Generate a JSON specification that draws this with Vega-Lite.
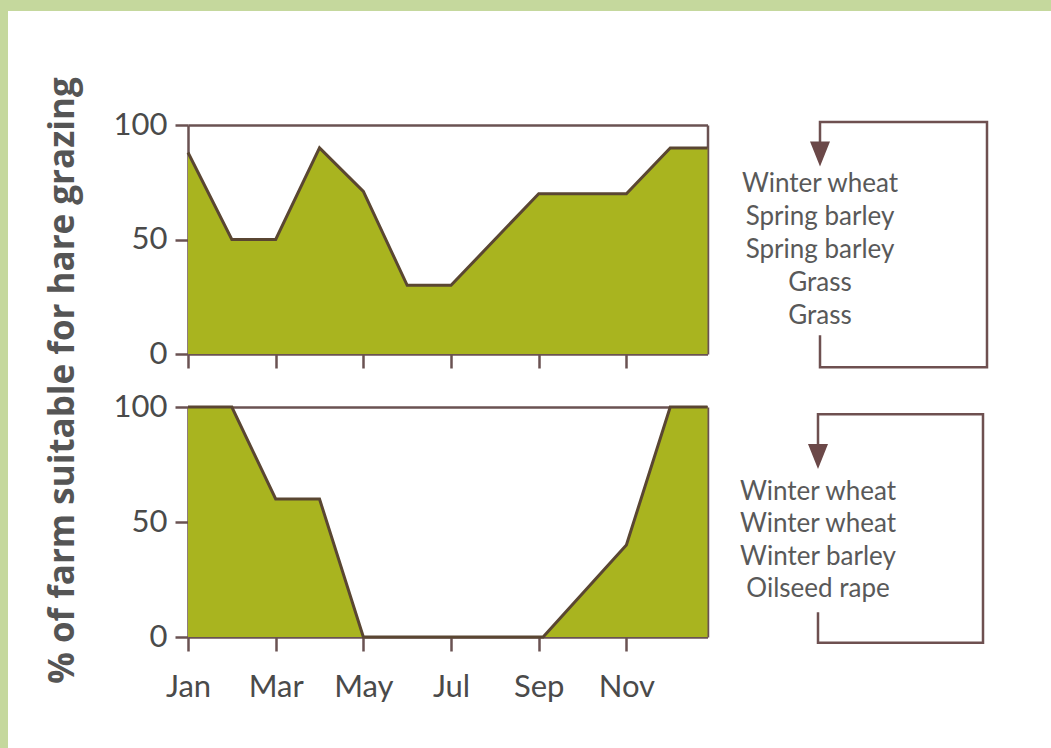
{
  "$schema": "https://vega.github.io/schema/vega-lite/v6.json",
  "width": 1043,
  "height": 737,
  "autosize": {"type": "none"},
  "padding": {"left": 8, "top": 11, "right": 0, "bottom": 0},
  "background": "#c5d89d",
  "view": {"fill": "#ffffff", "stroke": null},
  "config": {
    "font": "Lato",
    "axis": {
      "domainColor": "#6a5252",
      "domainWidth": 2.5,
      "tickColor": "#6a5252",
      "tickWidth": 2.5,
      "grid": false,
      "labelFont": "Lato",
      "labelFontSize": 31,
      "labelColor": "#4a4a4a",
      "labelFlush": false,
      "labelOverlap": false
    }
  },
  "datasets": {
    "top": [
      {"month": 0, "pct": 88},
      {"month": 1, "pct": 50},
      {"month": 2, "pct": 50},
      {"month": 3, "pct": 90},
      {"month": 4, "pct": 71},
      {"month": 5, "pct": 30},
      {"month": 6, "pct": 30},
      {"month": 8, "pct": 70},
      {"month": 10, "pct": 70},
      {"month": 11, "pct": 90},
      {"month": 11.85, "pct": 90}
    ],
    "bottom": [
      {"month": 0, "pct": 100},
      {"month": 1, "pct": 100},
      {"month": 2, "pct": 60},
      {"month": 3, "pct": 60},
      {"month": 4, "pct": 0},
      {"month": 8.1, "pct": 0},
      {"month": 10, "pct": 40},
      {"month": 11, "pct": 100},
      {"month": 11.85, "pct": 100}
    ],
    "loopTop": [
      {"step": 1, "x": 0, "y": 5.58},
      {"step": 2, "x": 0, "y": 6.55},
      {"step": 3, "x": 1, "y": 6.55},
      {"step": 4, "x": 1, "y": -0.88},
      {"step": 5, "x": 0, "y": -0.88},
      {"step": 6, "x": 0, "y": 0.09}
    ],
    "loopBottom": [
      {"step": 1, "x": 0, "y": 4.72},
      {"step": 2, "x": 0, "y": 5.67},
      {"step": 3, "x": 1, "y": 5.67},
      {"step": 4, "x": 1, "y": -1.41},
      {"step": 5, "x": 0, "y": -1.41},
      {"step": 6, "x": 0, "y": -0.1}
    ],
    "cropsTop": [
      {"year": 1, "crop": "Winter wheat"},
      {"year": 2, "crop": "Spring barley"},
      {"year": 3, "crop": "Spring barley"},
      {"year": 4, "crop": "Grass"},
      {"year": 5, "crop": "Grass"}
    ],
    "cropsBottom": [
      {"year": 1, "crop": "Winter wheat"},
      {"year": 2, "crop": "Winter wheat"},
      {"year": 3, "crop": "Winter barley"},
      {"year": 4, "crop": "Oilseed rape"}
    ]
  },
  "layer": [
    {
      "data": {"name": "top"},
      "layer": [
        {
          "mark": {"type": "area", "color": "#a9b41f", "opacity": 1},
          "encoding": {
            "x": {
              "field": "month", "type": "quantitative",
              "scale": {"domain": [0, 11.85], "range": [180, 699.5], "nice": false, "zero": false},
              "axis": {"orient": "bottom", "offset": -394, "values": [0, 2, 4, 6, 8, 10], "labels": false, "tickSize": 14, "title": null}
            },
            "y": {
              "field": "pct", "type": "quantitative",
              "scale": {"domain": [0, 100], "range": [343, 114], "nice": false},
              "axis": {
                "orient": "left", "offset": -180, "values": [0, 50, 100], "tickSize": 13, "labelPadding": 8,
                "title": "% of farm suitable for hare grazing",
                "titleFont": "Open Sans", "titleFontWeight": "bold", "titleFontSize": 35, "titleColor": "#555555",
                "titleX": -126, "titleY": 369, "titleAngle": -90, "titleAlign": "center", "titleBaseline": "middle", "titleLimit": 800
              }
            }
          }
        },
        {
          "mark": {"type": "line", "color": "#5a4632", "strokeWidth": 3, "strokeJoin": "miter"},
          "encoding": {
            "x": {"field": "month", "type": "quantitative", "axis": {"orient": "top", "offset": -114, "ticks": false, "labels": false, "title": null}},
            "y": {"field": "pct", "type": "quantitative", "axis": {"orient": "right", "offset": -343.5, "ticks": false, "labels": false, "title": null}}
          }
        }
      ],
      "resolve": {"axis": {"x": "independent", "y": "independent"}}
    },
    {
      "data": {"name": "bottom"},
      "layer": [
        {
          "mark": {"type": "area", "color": "#a9b41f", "opacity": 1},
          "encoding": {
            "x": {
              "field": "month", "type": "quantitative",
              "scale": {"domain": [0, 11.85], "range": [180, 699.5], "nice": false, "zero": false},
              "axis": {
                "orient": "bottom", "offset": -111, "values": [0, 2, 4, 6, 8, 10], "tickSize": 14, "labelPadding": 21, "title": null,
                "labelExpr": "['Jan','Feb','Mar','Apr','May','Jun','Jul','Aug','Sep','Oct','Nov','Dec'][datum.value]"
              }
            },
            "y": {
              "field": "pct", "type": "quantitative",
              "scale": {"domain": [0, 100], "range": [626, 396], "nice": false},
              "axis": {"orient": "left", "offset": -180, "values": [0, 50, 100], "tickSize": 13, "labelPadding": 8, "title": null}
            }
          }
        },
        {
          "mark": {"type": "line", "color": "#5a4632", "strokeWidth": 3, "strokeJoin": "miter"},
          "encoding": {
            "x": {"field": "month", "type": "quantitative", "axis": {"orient": "top", "offset": -396, "ticks": false, "labels": false, "title": null}},
            "y": {"field": "pct", "type": "quantitative", "axis": {"orient": "right", "offset": -343.5, "ticks": false, "labels": false, "title": null}}
          }
        }
      ],
      "resolve": {"axis": {"x": "independent", "y": "independent"}}
    },
    {
      "layer": [
        {
          "data": {"name": "loopTop"},
          "mark": {"type": "line", "color": "#6e5050", "strokeWidth": 2.5, "strokeJoin": "miter"},
          "encoding": {
            "x": {"field": "x", "type": "quantitative", "scale": {"domain": [0, 1], "range": [812, 979], "nice": false, "zero": false}, "axis": null},
            "y": {"field": "y", "type": "quantitative", "scale": {"domain": [0, 6], "range": [140, 338], "nice": false, "zero": false}, "axis": null},
            "order": {"field": "step", "type": "quantitative"}
          }
        },
        {
          "data": {"name": "loopTop"},
          "transform": [{"filter": "datum.step == 6"}],
          "mark": {"type": "point", "shape": "M-0.8,-1L0.8,-1L0,1Z", "size": 625, "filled": true, "color": "#6b4848", "opacity": 1},
          "encoding": {
            "x": {"field": "x", "type": "quantitative"},
            "y": {"field": "y", "type": "quantitative"}
          }
        },
        {
          "data": {"name": "cropsTop"},
          "mark": {"type": "text", "fontSize": 26, "color": "#595959", "align": "center", "baseline": "middle", "font": "Lato"},
          "encoding": {
            "x": {"datum": 0, "type": "quantitative"},
            "y": {"field": "year", "type": "quantitative"},
            "text": {"field": "crop"}
          }
        }
      ]
    },
    {
      "layer": [
        {
          "data": {"name": "loopBottom"},
          "mark": {"type": "line", "color": "#6e5050", "strokeWidth": 2.5, "strokeJoin": "miter"},
          "encoding": {
            "x": {"field": "x", "type": "quantitative", "scale": {"domain": [0, 1], "range": [810, 975], "nice": false, "zero": false}, "axis": null},
            "y": {"field": "y", "type": "quantitative", "scale": {"domain": [0, 5], "range": [448.7, 610.2], "nice": false, "zero": false}, "axis": null},
            "order": {"field": "step", "type": "quantitative"}
          }
        },
        {
          "data": {"name": "loopBottom"},
          "transform": [{"filter": "datum.step == 6"}],
          "mark": {"type": "point", "shape": "M-0.8,-1L0.8,-1L0,1Z", "size": 625, "filled": true, "color": "#6b4848", "opacity": 1},
          "encoding": {
            "x": {"field": "x", "type": "quantitative"},
            "y": {"field": "y", "type": "quantitative"}
          }
        },
        {
          "data": {"name": "cropsBottom"},
          "mark": {"type": "text", "fontSize": 26, "color": "#595959", "align": "center", "baseline": "middle", "font": "Lato"},
          "encoding": {
            "x": {"datum": 0, "type": "quantitative"},
            "y": {"field": "year", "type": "quantitative"},
            "text": {"field": "crop"}
          }
        }
      ]
    }
  ],
  "resolve": {
    "scale": {"x": "independent", "y": "independent"},
    "axis": {"x": "independent", "y": "independent"}
  }
}
